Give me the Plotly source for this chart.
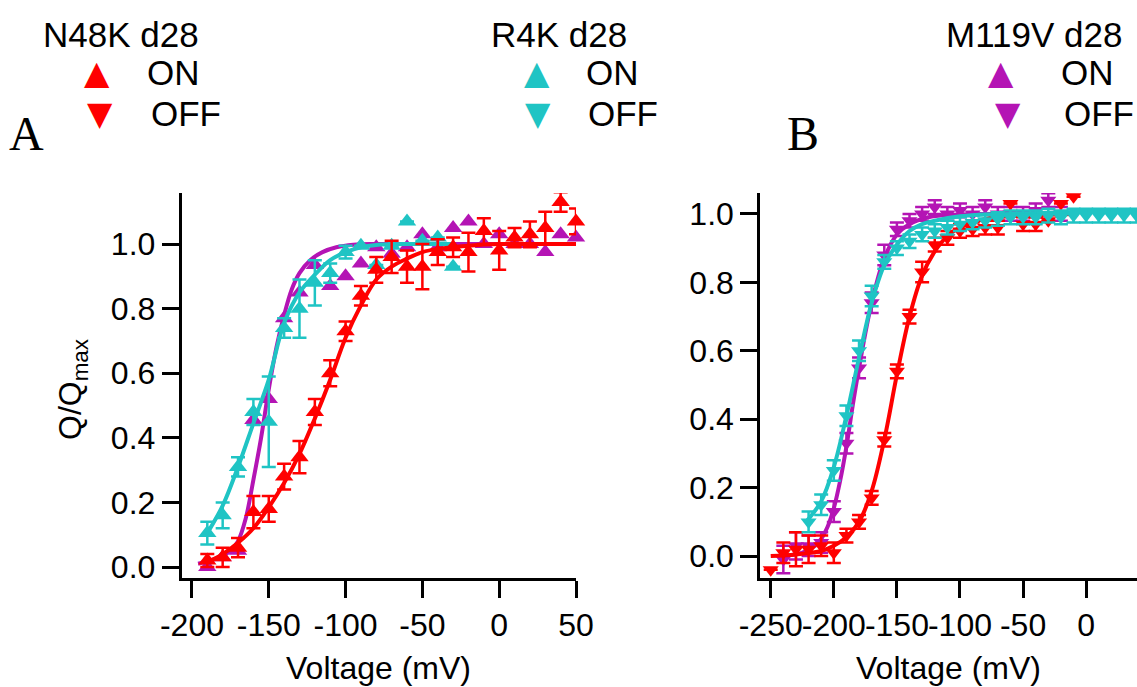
import plotly.graph_objects as go

W, H = 1137, 687

RED = "#FF0000"
CYAN = "#1FC4C4"
MAG = "#B414B4"

# ---------------- Panel A : ON charge (up triangles) ----------------
vA = [-190, -180, -170, -160, -150, -140, -130, -120, -110, -100, -90, -80, -70,
      -60, -50, -40, -30, -20, -10, 0, 10, 20, 30, 40, 50]
n48k_on = [0.02, 0.03, 0.06, 0.17, 0.18, 0.28, 0.34, 0.48, 0.60, 0.73, 0.84, 0.92, 0.96,
           0.93, 0.93, 0.975, 0.99, 0.975, 1.04, 0.98, 1.02, 1.03, 1.05, 1.13, 1.07]
n48k_on_err = [0.02, 0.03, 0.03, 0.05, 0.04, 0.04, 0.05, 0.04, 0.04, 0.03, 0.03, 0.04, 0.05,
               0.05, 0.07, 0.04, 0.03, 0.06, 0.04, 0.06, 0.03, 0.04, 0.05, 0.03, 0.04]

vA_r4k = [-190, -180, -170, -160, -150, -140, -130, -120, -110, -100, -90, -80, -70,
          -60, -50, -40, -30]
r4k_on = [0.105, 0.16, 0.31, 0.48, 0.45, 0.74, 0.80, 0.88, 0.91, 0.975, 0.995, 0.935, 0.995,
          1.07, 1.01, 1.02, 0.93]
r4k_on_err = [0.035, 0.04, 0.03, 0.04, 0.14, 0.03, 0.09, 0.07, 0.03, 0.02, 0.0, 0.0, 0.0,
              0.0, 0.0, 0.0, 0.0]

m119v_on = [0.0, 0.03, 0.05, 0.455, 0.52, 0.77, 0.85, 0.935, 0.87, 0.90, 0.94, 0.99, 0.97,
            0.99, 1.03, 0.99, 1.05, 1.07, 1.0, 1.03, 1.0, 1.0, 0.975, 1.03, 1.02]

# fitted curves
fitA_red_v = [-190, -180, -170, -160, -150, -140, -130, -120, -110, -100, -90, -80, -70, -60, -50, -40, -20, 0, 25, 50]
fitA_red_y = [0.015, 0.04, 0.075, 0.12, 0.185, 0.26, 0.35, 0.46, 0.58, 0.71, 0.81, 0.89, 0.93, 0.955, 0.975, 0.985, 0.995, 1.0, 1.0, 1.0]
fitA_cyan_v = [-190, -180, -170, -160, -150, -140, -130, -120, -110, -100, -90, -80, -60, -40, -30]
fitA_cyan_y = [0.105, 0.19, 0.31, 0.445, 0.58, 0.755, 0.85, 0.905, 0.95, 0.975, 0.99, 0.997, 1.0, 1.0, 1.0]
fitA_mag_v = [-196, -185, -175, -170, -165, -160, -155, -150, -145, -140, -135, -130, -123, -115, -106, -95, -80, -50, 0, 50]
fitA_mag_y = [0.01, 0.025, 0.05, 0.08, 0.15, 0.27, 0.40, 0.55, 0.68, 0.78, 0.86, 0.91, 0.95, 0.975, 0.99, 0.998, 1.0, 1.0, 1.0, 1.0]

# ---------------- Panel B : OFF charge (down triangles) ----------------
vB_red = [-250, -240, -230, -220, -210, -200, -190, -180, -170, -160, -150, -140, -130,
          -120, -110, -100, -90, -80, -70, -60, -50, -40, -30, -20, -10]
n48k_off = [-0.04, 0.01, 0.02, 0.02, 0.03, 0.01, 0.06, 0.10, 0.17, 0.34, 0.54, 0.70, 0.83,
            0.91, 0.93, 0.95, 0.955, 0.96, 0.96, 1.03, 0.97, 0.97, 0.98, 1.03, 1.05]
n48k_off_err = [0.0, 0.03, 0.05, 0.04, 0.03, 0.03, 0.02, 0.02, 0.02, 0.02, 0.02, 0.02, 0.03,
                0.02, 0.02, 0.02, 0.02, 0.02, 0.02, 0.0, 0.02, 0.02, 0.0, 0.0, 0.0]

vB_mag = [-240, -230, -220, -210, -200, -190, -180, -170, -160, -150, -140, -130, -120,
          -110, -100, -90, -80, -70, -60, -50, -40, -30, -20]
m119v_off = [-0.01, 0.03, 0.03, 0.04, 0.13, 0.33, 0.55, 0.74, 0.88, 0.955, 0.98, 1.0, 1.02,
             1.0, 1.01, 1.0, 1.02, 1.0, 1.0, 1.0, 1.01, 1.04, 1.0]
m119v_off_err = [0.04, 0.04, 0.03, 0.03, 0.03, 0.03, 0.03, 0.03, 0.03, 0.02, 0.02, 0.02, 0.02,
                 0.02, 0.02, 0.02, 0.02, 0.02, 0.02, 0.02, 0.02, 0.02, 0.02]

vB_cyan = [-220, -210, -200, -190, -180, -170, -160, -150, -140, -130, -120, -110, -100,
           -90, -80, -70, -60, -50, -40, -30, -20, -10, 0, 10, 20, 30, 40]
r4k_off = [0.10, 0.15, 0.25, 0.41, 0.60, 0.76, 0.86, 0.90, 0.92, 0.94, 0.95, 0.96, 0.97,
           0.975, 0.98, 0.985, 0.99, 0.99, 0.99, 0.995, 0.99, 0.995, 0.995, 0.995, 0.995, 0.995, 0.995]
r4k_off_err = [0.03, 0.03, 0.03, 0.03, 0.03, 0.03, 0.02, 0.02, 0.02, 0.02, 0.02, 0.02, 0.02,
               0.02, 0.02, 0.02, 0.02, 0.02, 0.02, 0.02, 0.02, 0.02, 0.02, 0.02, 0.02, 0.02, 0.02]

fitB_red_v = [-250, -230, -210, -200, -190, -180, -170, -160, -150, -140, -130, -120, -110, -100, -80, -50, -10]
fitB_red_y = [0.0, 0.005, 0.015, 0.03, 0.055, 0.10, 0.19, 0.34, 0.53, 0.70, 0.82, 0.89, 0.935, 0.96, 0.985, 0.995, 1.0]
fitB_mag_v = [-240, -225, -215, -210, -205, -200, -195, -190, -185, -180, -170, -160, -150, -140, -125, -110, -80, -20]
fitB_mag_y = [0.0, 0.01, 0.03, 0.05, 0.085, 0.14, 0.22, 0.32, 0.44, 0.55, 0.74, 0.87, 0.94, 0.97, 0.99, 0.997, 1.0, 1.0]
fitB_cyan_v = [-222, -210, -200, -190, -180, -170, -160, -150, -140, -130, -120, -100, -80, -60, -20, 40]
fitB_cyan_y = [0.10, 0.16, 0.26, 0.41, 0.58, 0.74, 0.85, 0.91, 0.95, 0.97, 0.98, 0.993, 0.998, 1.0, 1.005, 1.01]

xticksA = [-200, -150, -100, -50, 0, 50]
xticksB = [-250, -200, -150, -100, -50, 0]
yticks = [0.0, 0.2, 0.4, 0.6, 0.8, 1.0]

FONT = "Liberation Sans, Arial, sans-serif"
SERIF = "Liberation Serif, Times New Roman, serif"
fig = go.Figure()


def err(arr, color):
    return dict(type="data", array=arr, visible=True, color=color, thickness=2.5, width=7)


def fit(xs, ys, color, xa, ya):
    fig.add_trace(go.Scatter(x=xs, y=ys, mode="lines", line=dict(color=color, width=4, shape="spline"),
                             xaxis=xa, yaxis=ya, showlegend=False, hoverinfo="skip"))


def pts(xs, ys, color, sym, xa, ya, e=None, size=16):
    fig.add_trace(go.Scatter(x=xs, y=ys, mode="markers",
                             marker=dict(symbol=sym, size=size, color=color, line=dict(width=0)),
                             error_y=err(e, color) if e is not None else None,
                             xaxis=xa, yaxis=ya, showlegend=False, cliponaxis=False))


# Panel A
fit(fitA_mag_v, fitA_mag_y, MAG, "x", "y")
pts(vA, m119v_on, MAG, "triangle-up", "x", "y")
fit(fitA_cyan_v, fitA_cyan_y, CYAN, "x", "y")
pts(vA_r4k, r4k_on, CYAN, "triangle-up", "x", "y", r4k_on_err)
fit(fitA_red_v, fitA_red_y, RED, "x", "y")
pts(vA, n48k_on, RED, "triangle-up", "x", "y", n48k_on_err)

# Panel B
fit(fitB_mag_v, fitB_mag_y, MAG, "x2", "y2")
pts(vB_mag, m119v_off, MAG, "triangle-down", "x2", "y2", m119v_off_err, 14)
fit(fitB_red_v, fitB_red_y, RED, "x2", "y2")
pts(vB_red, n48k_off, RED, "triangle-down", "x2", "y2", n48k_off_err, 14)
fit(fitB_cyan_v, fitB_cyan_y, CYAN, "x2", "y2")
pts(vB_cyan, r4k_off, CYAN, "triangle-down", "x2", "y2", r4k_off_err, 14)


def px(x):
    return x / W


def py(y):
    return 1 - y / H


ybot, ytop = py(578), py(193)
axcommon = dict(showline=True, linecolor="black", linewidth=2.5, ticks="outside", ticklen=17,
                tickwidth=2.5, tickcolor="black", showgrid=False, zeroline=False, automargin=False,
                tickangle=0, tickfont=dict(family=FONT, size=32, color="black"), fixedrange=True)

fig.update_layout(
    width=W, height=H, margin=dict(l=0, r=0, t=0, b=0, pad=0, autoexpand=False),
    plot_bgcolor="white", paper_bgcolor="white", showlegend=False,
    xaxis=dict(domain=[px(181.5), px(576)], range=[-206.8, 50], anchor="y",
               tickvals=xticksA, ticktext=[str(t) for t in xticksA], **axcommon),
    yaxis=dict(domain=[ybot, ytop], range=[-0.034, 1.158], anchor="x",
               tickvals=yticks, ticktext=[f"{t:.1f}" for t in yticks], **axcommon),
    xaxis2=dict(domain=[px(760), 1.0], range=[-258.5, 40.3], anchor="y2",
                tickvals=xticksB, ticktext=[str(t) for t in xticksB], **axcommon),
    yaxis2=dict(domain=[ybot, ytop], range=[-0.064, 1.061], anchor="x2",
                tickvals=yticks, ticktext=[f"{t:.1f}" for t in yticks], **axcommon),
)

ann = []


def text(x, y, s, size=35, anchor="left", family=FONT, color="black", angle=0):
    ann.append(dict(x=px(x), y=py(y), xref="paper", yref="paper", text=s, showarrow=False,
                    xanchor=anchor, yanchor="middle", textangle=angle, borderpad=0,
                    font=dict(family=family, size=size, color=color)))


# legends
for (lx, name, color, tu, td, on_x, off_x) in [
        (42, "N48K d28", RED, 97, 100, 146, 150),
        (490, "R4K d28", CYAN, 537, 538, 585, 587),
        (945, "M119V d28", MAG, 1001, 1008, 1060, 1063)]:
    text(lx, 35, name)
    text(tu, 73, "▲", size=33, anchor="center", family="DejaVu Sans", color=color)
    text(td, 114, "▼", size=33, anchor="center", family="DejaVu Sans", color=color)
    text(on_x, 73, "ON")
    text(off_x, 113, "OFF")

text(26, 133, "A", size=48, anchor="center", family=SERIF)
text(803, 134, "B", size=48, anchor="center", family=SERIF)

text(378, 668, "Voltage (mV)", size=32, anchor="center")
text(948, 668, "Voltage (mV)", size=32, anchor="center")
text(72, 390, "Q/Q<sub>max</sub>", size=32, anchor="center", angle=-90)

fig.update_layout(annotations=ann)
fig.write_html("out.html", config={"displayModeBar": False},
               post_script="document.body.style.margin='0';document.body.style.overflow='hidden';")
